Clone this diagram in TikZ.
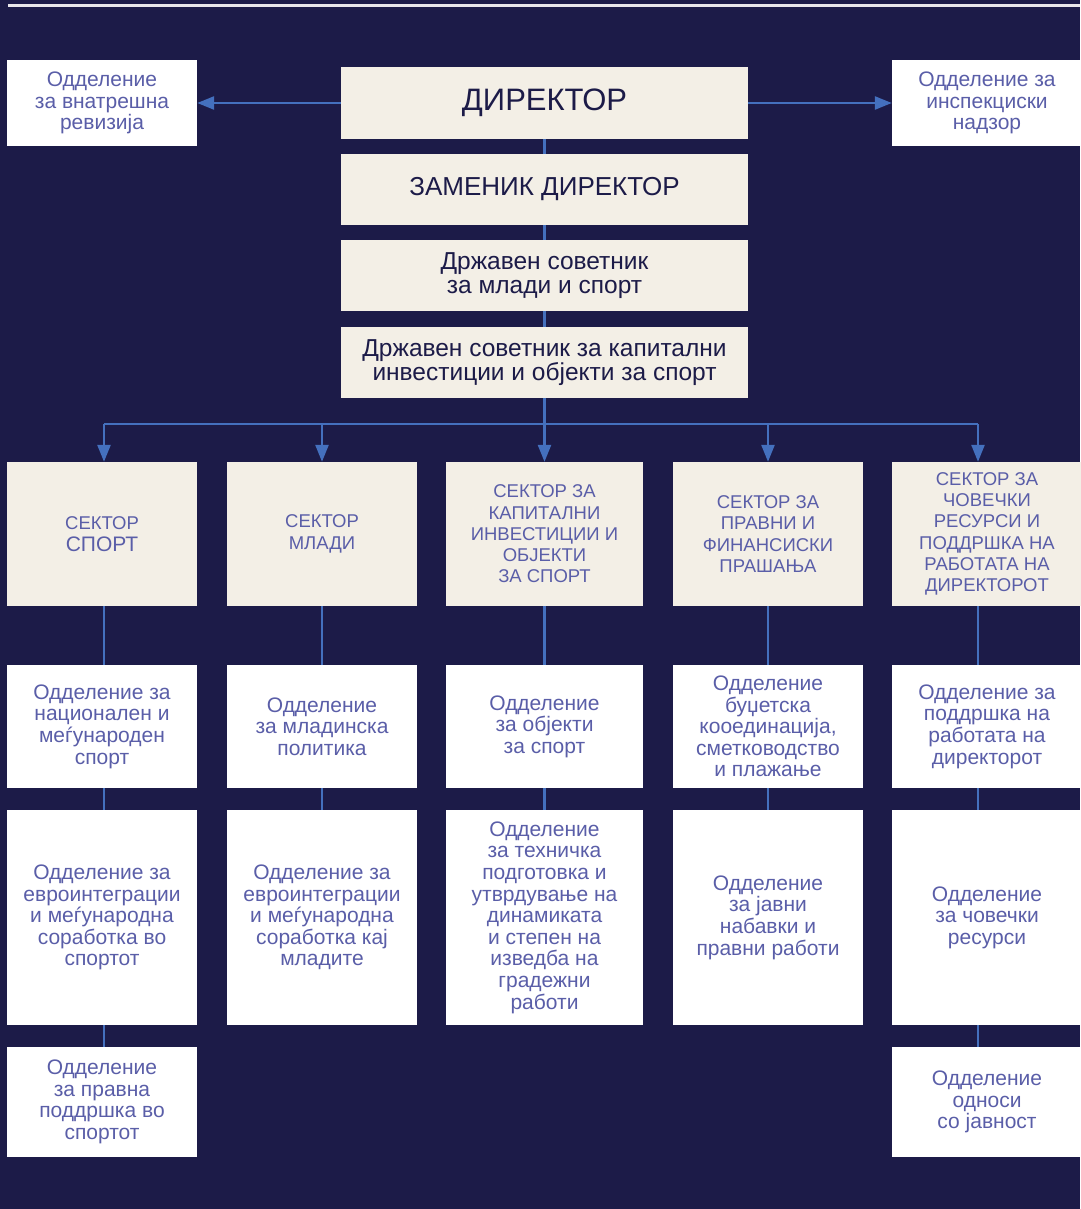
\documentclass[tikz,border=0pt]{standalone}
\usepackage{fontspec}
\setmainfont{Liberation Sans}
\usetikzlibrary{arrows.meta}
\definecolor{bg}{RGB}{28,27,72}
\definecolor{cream}{RGB}{243,239,230}
\definecolor{linec}{RGB}{68,112,190}
\definecolor{purp}{RGB}{90,94,168}
\definecolor{navy}{RGB}{28,27,72}
\definecolor{topline}{RGB}{232,230,234}
\begin{document}
\begin{tikzpicture}[x=1pt,y=-1pt,
  topbox/.style={fill=cream,draw=none,minimum width=407pt,minimum height=71pt,align=center,text=navy,inner sep=0pt},
  whitebox/.style={fill=white,draw=none,align=center,text=purp,inner sep=0pt,font=\fontsize{21}{21.6}\selectfont},
  secbox/.style={fill=cream,draw=none,align=center,text=purp,inner sep=0pt,minimum height=144pt,font=\fontsize{18.5}{21.3}\selectfont},
  conn/.style={draw=linec,line width=2.5pt},
  arr/.style={draw=linec,line width=2.5pt,-{Triangle[length=17pt,width=13pt]}}]
\fill[bg] (0,0) rectangle (1080,1209);
\useasboundingbox (0,0) rectangle (1080,1209);
\draw[topline,line width=3pt] (8,6) -- (1080,6);

% top column
\node[topbox,minimum height=72pt,font=\fontsize{31}{33}\selectfont] (dir) at (544.5,103) {ДИРЕКТОР};
\node[topbox,font=\fontsize{26}{28}\selectfont] (zam) at (544.5,189.5) {ЗАМЕНИК ДИРЕКТОР};
\node[topbox,font=\fontsize{24.5}{24.5}\selectfont] (dsm) at (544.5,275.5) {Државен советник\\за млади и спорт};
\node[topbox,font=\fontsize{24.5}{24.5}\selectfont] (dsk) at (544.5,362.5) {Државен советник за капитални\\инвестиции и објекти за спорт};

\node[whitebox,minimum width=190pt,minimum height=86pt] (irev) at (102,103) {Одделение\\за внатрешна\\ревизија};
\node[whitebox,minimum width=190pt,minimum height=86pt] (insp) at (987,103) {Одделение за\\инспекциски\\надзор};

\draw[arr] (dir.west) -- (irev.east);
\draw[arr] (dir.east) -- (insp.east -| insp.west);

\draw[conn] (dir.south) -- (zam.north);
\draw[conn] (zam.south) -- (dsm.north);
\draw[conn] (dsm.south) -- (dsk.north);

% sectors
\node[secbox,minimum width=190pt] (s1) at (102,534) {СЕКТОР\\{\fontsize{21}{21.3}\selectfont СПОРТ}};
\node[secbox,minimum width=190pt] (s2) at (322,534) {СЕКТОР\\МЛАДИ};
\node[secbox,minimum width=197pt] (s3) at (544.5,534) {СЕКТОР ЗА\\КАПИТАЛНИ\\ИНВЕСТИЦИИ И\\ОБЈЕКТИ\\ЗА СПОРТ};
\node[secbox,minimum width=190pt] (s4) at (768,534) {СЕКТОР ЗА\\ПРАВНИ И\\ФИНАНСИСКИ\\ПРАШАЊА};
\node[secbox,minimum width=190pt] (s5) at (987,534) {СЕКТОР ЗА\\ЧОВЕЧКИ\\РЕСУРСИ И\\ПОДДРШКА НА\\РАБОТАТА НА\\ДИРЕКТОРОТ};

\coordinate (bus) at (544.5,424);
\coordinate (c1) at (104,424);
\coordinate (c2) at (322,424);
\coordinate (c3) at (544.5,424);
\coordinate (c4) at (768,424);
\coordinate (c5) at (978,424);
\draw[conn] (dsk.south) -- (bus);
\draw[conn] (c1) -- (c5);
\draw[arr] (c1) -- (c1 |- s1.north);
\draw[arr] (c2) -- (c2 |- s2.north);
\draw[arr] (c3) -- (c3 |- s3.north);
\draw[arr] (c4) -- (c4 |- s4.north);
\draw[arr] (c5) -- (c5 |- s5.north);

% row 2
\node[whitebox,minimum width=190pt,minimum height=123pt] (a1) at (102,726.5) {Одделение за\\национален и\\меѓународен\\спорт};
\node[whitebox,minimum width=190pt,minimum height=123pt] (a2) at (322,726.5) {Одделение\\за младинска\\политика};
\node[whitebox,minimum width=197pt,minimum height=123pt] (a3) at (544.5,726.5) {Одделение\\за објекти\\за спорт};
\node[whitebox,minimum width=190pt,minimum height=123pt] (a4) at (768,726.5) {Одделение\\буџетска\\кооединација,\\сметководство\\и плажање};
\node[whitebox,minimum width=190pt,minimum height=123pt] (a5) at (987,726.5) {Одделение за\\поддршка на\\работата на\\директорот};

% row 3
\node[whitebox,minimum width=190pt,minimum height=215pt] (b1) at (102,917.5) {Одделение за\\евроинтеграции\\и меѓународна\\соработка во\\спортот};
\node[whitebox,minimum width=190pt,minimum height=215pt] (b2) at (322,917.5) {Одделение за\\евроинтеграции\\и меѓународна\\соработка кај\\младите};
\node[whitebox,minimum width=197pt,minimum height=215pt] (b3) at (544.5,917.5) {Одделение\\за техничка\\подготовка и\\утврдување на\\динамиката\\и степен на\\изведба на\\градежни\\работи};
\node[whitebox,minimum width=190pt,minimum height=215pt] (b4) at (768,917.5) {Одделение\\за јавни\\набавки и\\правни работи};
\node[whitebox,minimum width=190pt,minimum height=215pt] (b5) at (987,917.5) {Одделение\\за човечки\\ресурси};

% row 4
\node[whitebox,minimum width=190pt,minimum height=110pt] (d1) at (102,1102) {Одделение\\за правна\\поддршка во\\спортот};
\node[whitebox,minimum width=190pt,minimum height=110pt] (d5) at (987,1102) {Одделение\\односи\\со јавност};

% column connectors
\draw[conn] (c1 |- s1.south) -- (c1 |- a1.north);
\draw[conn] (c1 |- a1.south) -- (c1 |- b1.north);
\draw[conn] (c1 |- b1.south) -- (c1 |- d1.north);
\draw[conn] (c2 |- s2.south) -- (c2 |- a2.north);
\draw[conn] (c2 |- a2.south) -- (c2 |- b2.north);
\draw[conn] (c3 |- s3.south) -- (c3 |- a3.north);
\draw[conn] (c3 |- a3.south) -- (c3 |- b3.north);
\draw[conn] (c4 |- s4.south) -- (c4 |- a4.north);
\draw[conn] (c4 |- a4.south) -- (c4 |- b4.north);
\draw[conn] (c5 |- s5.south) -- (c5 |- a5.north);
\draw[conn] (c5 |- a5.south) -- (c5 |- b5.north);
\draw[conn] (c5 |- b5.south) -- (c5 |- d5.north);
\end{tikzpicture}
\end{document}
